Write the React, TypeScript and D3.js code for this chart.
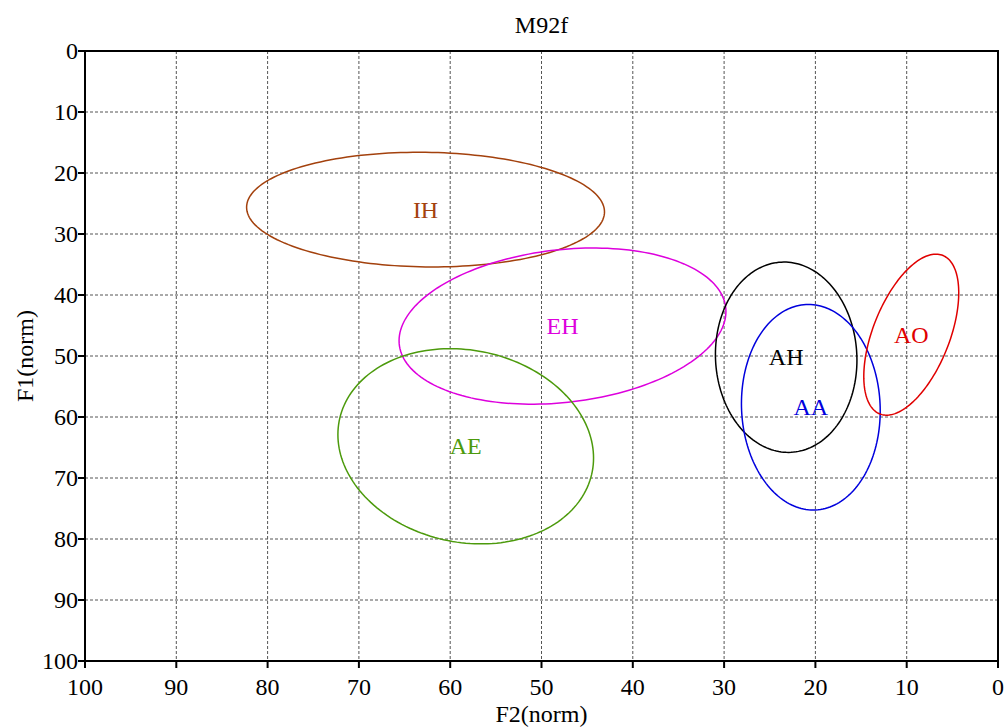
import React from "react";
import * as d3 from "d3";

// Vowel regions: centre (F2, F1), half-extent along each axis, and F2/F1 correlation
const vowels = ["IH", "EH", "AE", "AH", "AA", "AO"];
const centerF2 = [62.7, 47.7, 58.3, 23.2, 20.5, 9.5];
const centerF1 = [26.0, 45.1, 64.8, 50.2, 58.4, 46.5];
const spreadF2 = [19.6, 17.9, 14.0, 7.75, 7.6, 5.2];
const spreadF1 = [9.4, 12.8, 16.0, 15.6, 16.85, 13.2];
const correlation = [-0.04, 0.187, -0.12, -0.03, -0.035, 0.52];
const colors = ["#a3410d", "#dd00dd", "#4c9a0c", "#000000", "#0000dd", "#e00000"];

const ticks = [0, 10, 20, 30, 40, 50, 60, 70, 80, 90, 100];

const W = 1006;
const H = 728;
const margin = { left: 85, right: 8, top: 51, bottom: 67 };

const FONT = '"Liberation Serif", "Times New Roman", Times, serif';

export default function App() {
  const x = d3.scaleLinear().domain([100, 0]).range([margin.left, W - margin.right]);
  const y = d3.scaleLinear().domain([0, 100]).range([margin.top, H - margin.bottom]);

  const [x0, x1] = x.range();
  const [y0, y1] = y.range();

  const steps = d3.range(0, 361, 2).map((d) => (d * Math.PI) / 180);
  const line = d3
    .line<[number, number]>()
    .x((d) => x(d[0]))
    .y((d) => y(d[1]))
    .curve(d3.curveLinearClosed);

  const ellipses = vowels.map((name, i) => {
    const r = correlation[i];
    const pts: [number, number][] = steps.map((t) => [
      centerF2[i] + spreadF2[i] * Math.cos(t),
      centerF1[i] + spreadF1[i] * (r * Math.cos(t) + Math.sqrt(1 - r * r) * Math.sin(t)),
    ]);
    return { name, d: line(pts) as string, color: colors[i], cx: centerF2[i], cy: centerF1[i] };
  });

  const ts: React.CSSProperties = { fontFamily: FONT, fontSize: "24px" };

  return (
    <svg
      width={W}
      height={H}
      style={{ position: "absolute", left: 0, top: 0, display: "block", background: "#fff" }}
    >
      {/* grid */}
      <g stroke="#555" strokeWidth={1} strokeDasharray="3,2">
        {ticks
          .filter((t) => t > 0 && t < 100)
          .map((t) => (
            <line key={"gx" + t} x1={x(t)} x2={x(t)} y1={y0} y2={y1} />
          ))}
        {ticks
          .filter((t) => t > 0 && t < 100)
          .map((t) => (
            <line key={"gy" + t} x1={x0} x2={x1} y1={y(t)} y2={y(t)} />
          ))}
      </g>

      {/* ellipses */}
      <g fill="none" strokeWidth={1.5}>
        {ellipses.map((e) => (
          <path key={e.name} d={e.d} stroke={e.color} />
        ))}
      </g>

      {/* labels */}
      {ellipses.map((e) => (
        <text
          key={"l" + e.name}
          x={x(e.cx)}
          y={y(e.cy) + 8}
          fill={e.color}
          style={ts}
          textAnchor="middle"
        >
          {e.name}
        </text>
      ))}

      {/* frame */}
      <rect x={x0} y={y0} width={x1 - x0} height={y1 - y0} fill="none" stroke="#000" strokeWidth={2} />

      {/* y axis ticks */}
      {ticks.map((t) => (
        <g key={"ty" + t}>
          <line x1={x0 - 7} x2={x0} y1={y(t)} y2={y(t)} stroke="#000" strokeWidth={2} />
          <text x={x0 - 7} y={y(t) + 8} style={ts} textAnchor="end" fill="#000">
            {t}
          </text>
        </g>
      ))}

      {/* x axis ticks */}
      {ticks.map((t) => (
        <g key={"tx" + t}>
          <line x1={x(t)} x2={x(t)} y1={y1} y2={y1 + 7} stroke="#000" strokeWidth={2} />
          <text x={x(t)} y={y1 + 34} style={ts} textAnchor="middle" fill="#000">
            {t}
          </text>
        </g>
      ))}

      {/* titles */}
      <text x={(x0 + x1) / 2} y={33} style={ts} textAnchor="middle" fill="#000">
        M92f
      </text>
      <text x={(x0 + x1) / 2} y={722} style={ts} textAnchor="middle" fill="#000">
        F2(norm)
      </text>
      <text
        transform={`translate(33, ${(y0 + y1) / 2}) rotate(-90)`}
        style={ts}
        textAnchor="middle"
        fill="#000"
      >
        F1(norm)
      </text>
    </svg>
  );
}
